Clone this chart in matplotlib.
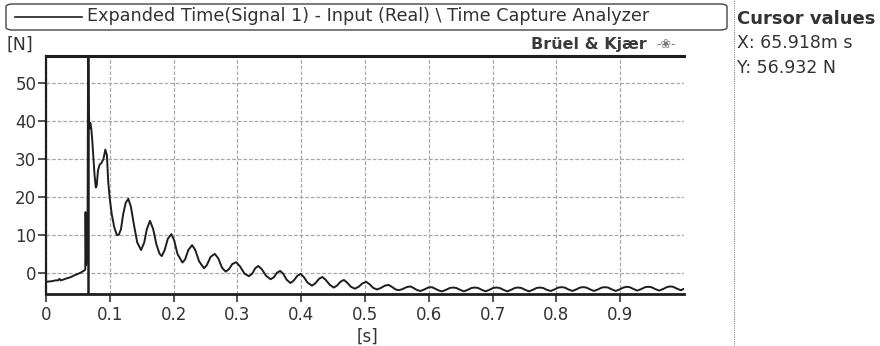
import matplotlib
matplotlib.use("Agg")
import matplotlib.pyplot as plt
from matplotlib.patches import FancyBboxPatch
from matplotlib.lines import Line2D

# ---- data ----
time_s = [
    0.000, 0.005, 0.010, 0.015, 0.019, 0.021, 0.023, 0.027, 0.032, 0.038, 0.044, 0.050,
    0.055, 0.059, 0.0615, 0.0620, 0.0628, 0.0650, 0.065918, 0.0668, 0.0680, 0.0695,
    0.0710, 0.0725, 0.0740, 0.0760, 0.0780, 0.0795, 0.0815, 0.0840, 0.0870, 0.0900,
    0.0930, 0.0955, 0.0975, 0.1000, 0.1030, 0.1070, 0.1110, 0.1140,
    0.1175, 0.121, 0.125, 0.129, 0.133, 0.138, 0.143, 0.149, 0.154, 0.158, 0.163,
    0.168, 0.173, 0.178, 0.1815, 0.186, 0.191, 0.1966, 0.201, 0.206, 0.2138, 0.218,
    0.223, 0.229, 0.234, 0.240, 0.2477, 0.252, 0.258, 0.2645, 0.270, 0.276, 0.2817,
    0.287, 0.292, 0.298, 0.304, 0.311, 0.318, 0.323, 0.328, 0.3327, 0.338, 0.345,
    0.352, 0.357, 0.362, 0.367, 0.372, 0.377, 0.383, 0.388, 0.394, 0.399, 0.404,
    0.410, 0.417, 0.422, 0.428, 0.433, 0.438, 0.445, 0.451, 0.456, 0.462, 0.467,
    0.472, 0.478, 0.484, 0.490, 0.496, 0.502, 0.507, 0.513, 0.519, 0.525, 0.531,
    0.537, 0.542, 0.548, 0.553, 0.559, 0.565, 0.571, 0.576, 0.582, 0.587, 0.593,
    0.599, 0.605, 0.610, 0.616,
    0.621, 0.627, 0.633, 0.638, 0.643, 0.649,
    0.655, 0.661, 0.667, 0.672, 0.677, 0.683,
    0.689, 0.695, 0.701, 0.706, 0.711, 0.717,
    0.723, 0.729, 0.735, 0.740, 0.745, 0.751,
    0.757, 0.763, 0.769, 0.774, 0.779, 0.785,
    0.791, 0.797, 0.803, 0.808, 0.813, 0.819,
    0.825, 0.831, 0.837, 0.842, 0.847, 0.853,
    0.859, 0.865, 0.871, 0.876, 0.881, 0.887,
    0.893, 0.899, 0.905, 0.910, 0.915, 0.921,
    0.927, 0.933, 0.939, 0.944, 0.949, 0.955,
    0.961, 0.967, 0.973, 0.978, 0.983, 0.989,
    0.995, 0.999,
]
force_N = [
    -2.4, -2.3, -2.2, -2.0, -2.0, -1.6, -2.0, -1.8, -1.5, -1.2, -0.7, -0.3,
    0.1, 0.5, 0.8, 16.0, 2.0, 3.0, 56.932, 45.0, 38.0, 39.5,
    38.0, 35.0, 31.0, 26.0, 22.5, 23.0, 27.0, 28.5, 29.0, 30.0,
    32.5, 31.0, 24.0, 19.5, 15.5, 12.0, 10.0, 10.0,
    11.5, 15.5, 18.5, 19.5, 17.5, 12.5, 8.0, 6.0, 8.0, 11.5, 13.7,
    11.5, 7.5, 5.0, 4.4, 6.0, 9.0, 10.2, 8.5, 5.0, 2.7, 3.5,
    6.0, 7.3, 6.0, 3.0, 1.2, 2.0, 4.2, 5.0, 3.8, 1.3, 0.3,
    1.0, 2.3, 2.8, 1.7, -0.2, -0.9, -0.3, 1.2, 1.8, 1.0, -0.8,
    -1.7, -1.2, 0.0, 0.5, -0.3, -1.8, -2.7, -2.1, -0.8, -0.3, -1.1,
    -2.6, -3.4, -2.8, -1.6, -1.1, -1.8, -3.2, -3.9, -3.4, -2.3, -1.9,
    -2.6, -3.7, -4.2, -3.7, -2.8, -2.4, -3.0, -4.0, -4.4, -4.0, -3.4,
    -3.2, -3.7, -4.4, -4.6, -4.3, -3.8, -3.6, -4.0, -4.6, -4.8, -4.4,
    -3.9, -3.8, -4.2, -4.7,
    -4.9, -4.5, -4.0, -3.9, -4.0, -4.5,
    -4.9, -4.5, -4.0, -3.9, -4.0, -4.5,
    -4.9, -4.5, -4.0, -3.9, -4.0, -4.5,
    -4.9, -4.5, -4.0, -3.9, -4.0, -4.5,
    -4.9, -4.5, -4.0, -3.9, -4.0, -4.5,
    -4.8, -4.4, -3.9, -3.8, -3.9, -4.4,
    -4.8, -4.4, -3.9, -3.8, -3.9, -4.4,
    -4.8, -4.4, -3.9, -3.8, -3.9, -4.4,
    -4.8, -4.4, -3.9, -3.7, -3.8, -4.3,
    -4.7, -4.3, -3.8, -3.7, -3.8, -4.3,
    -4.7, -4.3, -3.8, -3.6, -3.7, -4.2,
    -4.6, -4.3,
]
cursor_x = 0.065918
cursor_y = 56.932
x_ticks = [0, 0.1, 0.2, 0.3, 0.4, 0.5, 0.6, 0.7, 0.8, 0.9]
x_tick_labels = ["0", "0.1", "0.2", "0.3", "0.4", "0.5", "0.6", "0.7", "0.8", "0.9"]
y_ticks = [0, 10, 20, 30, 40, 50]
y_tick_labels = ["0", "10", "20", "30", "40", "50"]
legend_text = "Expanded Time(Signal 1) - Input (Real) \\ Time Capture Analyzer"

# ---- figure ----
W, H = 880, 346
fig = plt.figure(figsize=(W / 100, H / 100), dpi=100)
fig.patch.set_facecolor("white")
txt = "#333333"
plt.rcParams["font.family"] = ["DejaVu Sans"]

ax = fig.add_axes([46 / W, 1 - 294 / H, (684 - 46) / W, (294 - 56) / H])
ax.plot(time_s, force_N, color="#1e1e1e", lw=1.4, zorder=3)
ax.axvline(cursor_x, color="#1e1e1e", lw=1.8, zorder=4)

ax.set_xlim(0, 1.0)
ax.set_ylim(-5.6, 57.2)
ax.set_xticks(x_ticks)
ax.set_xticklabels(x_tick_labels)
ax.set_yticks(y_ticks)
ax.set_yticklabels(y_tick_labels)
ax.tick_params(axis="both", colors=txt, labelsize=12, length=6, width=1.2, direction="out")
ax.tick_params(axis="x", pad=3)
ax.tick_params(axis="y", pad=1)
ax.grid(True, color="#a8a8a8", lw=0.9, linestyle=(0, (3, 1.5)))
ax.set_axisbelow(True)
for s in ["top", "bottom", "left"]:
    ax.spines[s].set_color("#1e1e1e")
ax.spines["top"].set_linewidth(2.2)
ax.spines["bottom"].set_linewidth(2.0)
ax.spines["left"].set_linewidth(1.6)
ax.spines["right"].set_visible(False)

# axis unit labels
fig.text(7 / W, 1 - 45 / H, "[N]", ha="left", va="center", fontsize=12.5, color=txt)
fig.text(367 / W, 1 - 337 / H, "[s]", ha="center", va="center", fontsize=12, color=txt)

# legend-style title box
box = FancyBboxPatch((6 / W, 1 - 30 / H), (727 - 6) / W, 26 / H,
                     boxstyle="round,pad=0,rounding_size=0.008",
                     transform=fig.transFigure, facecolor="none",
                     edgecolor="#444444", lw=1.0)
fig.patches.append(box)
fig.lines.append(Line2D([15 / W, 82 / W], [1 - 17 / H, 1 - 17 / H],
                        transform=fig.transFigure, color="#1e1e1e", lw=1.2))
fig.text(87 / W, 1 - 16 / H, legend_text, ha="left", va="center",
         fontsize=12.7, color=txt)

# brand
fig.text(647 / W, 1 - 45 / H, "Brüel & Kjær", ha="right", va="center",
         fontsize=11.5, fontweight="bold", color="#3a3a3a")
fig.text(666 / W, 1 - 44 / H, "-❀-", ha="center", va="center",
         fontsize=9, color="#777777")

# cursor panel
fig.lines.append(Line2D([734 / W, 734 / W], [0, 1], transform=fig.transFigure,
                        color="#888888", lw=0.8, linestyle=(0, (1, 1))))
fig.text(737 / W, 1 - 19 / H, "Cursor values", ha="left", va="center",
         fontsize=13, fontweight="bold", color=txt)
fig.text(737 / W, 1 - 43 / H, f"X: {cursor_x * 1000:.3f}m s", ha="left",
         va="center", fontsize=12.5, color=txt)
fig.text(737 / W, 1 - 68 / H, f"Y: {cursor_y:.3f} N", ha="left",
         va="center", fontsize=12.5, color=txt)

fig.savefig("out.png", dpi=100)
